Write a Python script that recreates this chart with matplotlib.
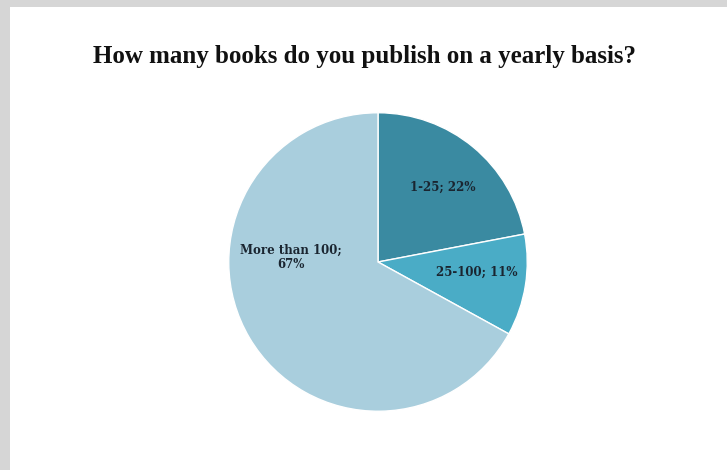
import matplotlib.pyplot as plt
from matplotlib.patches import Rectangle

categories = ["1-25", "25-100", "More than 100"]
shares = [22, 11, 67]
label_texts = ["1-25; 22%", "25-100; 11%", "More than 100;\n67%"]
colors = ["#3a8aa1", "#4aacc6", "#a9cedd"]
label_pos = [(0.43, 0.50), (0.66, -0.07), (-0.58, 0.03)]

fig = plt.figure(figsize=(7.27, 4.70), dpi=100)
fig.patch.set_facecolor("#d6d6d6")
# white sheet inside the gray frame
fig.patches.append(Rectangle((10 / 727, 0), 1, 1 - 7 / 470, transform=fig.transFigure,
                             facecolor="white", edgecolor="none", zorder=-10))

fig.text(0.502, 1 - 57 / 470, "How many books do you publish on a yearly basis?",
         ha="center", va="center", fontsize=18, fontweight="bold",
         family="Liberation Serif", color="#111111")

ax = fig.add_axes([(378 - 150) / 727, (470 - 262 - 150) / 470, 300 / 727, 300 / 470])
ax.set_zorder(5)
ax.pie(shares, colors=colors, startangle=90, counterclock=False, radius=0.995,
       wedgeprops=dict(edgecolor="white", linewidth=1))
for txt, (x, y) in zip(label_texts, label_pos):
    ax.text(x, y, txt, ha="center", va="center", fontsize=8.5, fontweight="bold",
            family="DejaVu Serif", color="#1a2530", linespacing=1.1)
ax.set_xlim(-1, 1)
ax.set_ylim(-1, 1)
ax.set_aspect("equal")
ax.axis("off")

fig.savefig("out.png", dpi=100, facecolor=fig.get_facecolor())
